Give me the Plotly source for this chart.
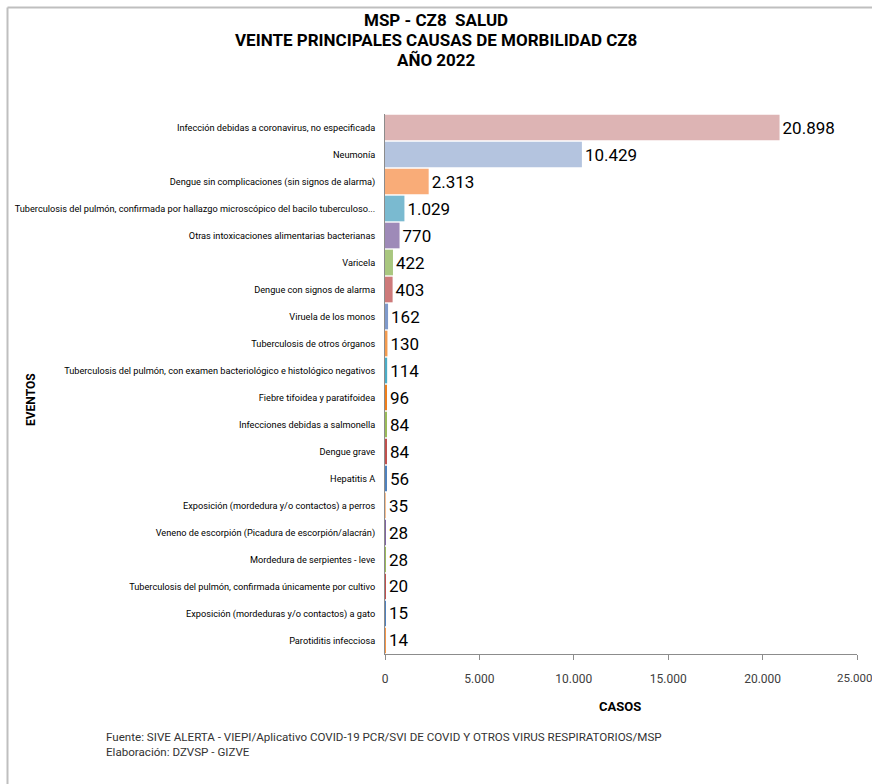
import plotly.graph_objects as go

# datos
eventos = [
    "Infección debidas a coronavirus, no especificada",
    "Neumonía",
    "Dengue sin complicaciones (sin signos de alarma)",
    "Tuberculosis del pulmón, confirmada por hallazgo microscópico del bacilo tuberculoso...",
    "Otras intoxicaciones alimentarias bacterianas",
    "Varicela",
    "Dengue con signos de alarma",
    "Viruela de los monos",
    "Tuberculosis de otros órganos",
    "Tuberculosis del pulmón, con examen bacteriológico e histológico negativos",
    "Fiebre tifoidea y paratifoidea",
    "Infecciones debidas a salmonella",
    "Dengue grave",
    "Hepatitis A",
    "Exposición (mordedura y/o contactos) a perros",
    "Veneno de escorpión (Picadura de escorpión/alacrán)",
    "Mordedura de serpientes - leve",
    "Tuberculosis del pulmón, confirmada únicamente por cultivo",
    "Exposición (mordeduras y/o contactos) a gato",
    "Parotiditis infecciosa",
]
casos = [20898, 10429, 2313, 1029, 770, 422, 403, 162, 130, 114,
         96, 84, 84, 56, 35, 28, 28, 20, 15, 14]
colores = ["#DDB4B4", "#B4C4DF", "#F9AC78", "#7ABAD0", "#9E8AB8",
           "#A9C77F", "#CD7A7A", "#7F9ACB", "#F39A4E", "#4BACC6",
           "#F07F1B", "#9BBB59", "#C0504D", "#4F81BD", "#FAC090",
           "#8064A2", "#9BBB59", "#C0504D", "#4F81BD", "#F79646"]
ticks_x = [0, 5000, 10000, 15000, 20000, 25000]

W, H = 872, 784
L, R, T, B = 385, 15, 114, 130
pw, ph = W - L - R, H - T - B

def px_x(x):
    return (x - L) / pw

def px_y(y):
    return (H - B - y) / ph

fuente = "Roboto, Arial, sans-serif"

fig = go.Figure(go.Bar(
    x=casos, y=eventos, orientation="h",
    marker=dict(color=colores, line=dict(width=0)),
    text=casos, texttemplate="%{x:,d}", textposition="outside",
    textfont=dict(family=fuente, size=17, color="#000000"),
    cliponaxis=False, hoverinfo="x+y",
))

fig.update_layout(
    width=W, height=H, autosize=False,
    margin=dict(l=L, r=R, t=T, b=B, pad=0, autoexpand=False),
    paper_bgcolor="white", plot_bgcolor="white",
    separators=",.",
    bargap=0.05,
    showlegend=False,
    font=dict(family=fuente, color="#000000"),
)
fig.update_yaxes(
    autorange="reversed", showgrid=False, ticks="", automargin=False,
    showline=True, linecolor="#8C8C8C", linewidth=1,
    tickfont=dict(family=fuente, size=9.2, color="#000000"),
    ticklabelstandoff=7,
)
fig.update_xaxes(
    range=[0, 25000], tickvals=ticks_x, tickformat=",d", automargin=False,
    showgrid=False, zeroline=False,
    showline=True, linecolor="#8C8C8C", linewidth=1,
    ticks="outside", ticklen=5, tickcolor="#8C8C8C",
    tickfont=dict(family=fuente, size=12, color="#404040"),
    ticklabelstandoff=9,
)

# la ultima etiqueta (25.000) se dibuja aparte, pegada al borde derecho
fig.add_annotation(x=ticks_x[-1], y=px_y(678), xref="x", yref="paper",
                   text="{:,}".format(ticks_x[-1]).replace(",", "."), showarrow=False,
                   xanchor="center", yanchor="middle", xshift=-3,
                   font=dict(family=fuente, size=11.5, color="#404040"))

titulo = ["MSP - CZ8  SALUD", "VEINTE PRINCIPALES CAUSAS DE MORBILIDAD CZ8", "AÑO 2022"]
for i, t in enumerate(titulo):
    fig.add_annotation(x=px_x(436), y=px_y(20 + 20 * i), xref="paper", yref="paper",
                       text="<b>%s</b>" % t, showarrow=False, xanchor="center", yanchor="middle",
                       font=dict(family=fuente, size=17, color="#000000"))

fig.add_annotation(x=px_x(31), y=px_y(400), xref="paper", yref="paper",
                   text="<b>EVENTOS</b>", textangle=-90, showarrow=False,
                   xanchor="center", yanchor="middle",
                   font=dict(family=fuente, size=12, color="#000000"))
fig.add_annotation(x=px_x(620), y=px_y(706), xref="paper", yref="paper",
                   text="<b>CASOS</b>", showarrow=False, xanchor="center", yanchor="middle",
                   font=dict(family=fuente, size=13, color="#000000"))

fig.add_annotation(x=px_x(104), y=px_y(737), xref="paper", yref="paper",
                   xanchor="left", yanchor="middle",
                   text="Fuente: SIVE ALERTA - VIEPI/Aplicativo COVID-19 PCR/SVI DE COVID Y OTROS VIRUS RESPIRATORIOS/MSP",
                   showarrow=False, font=dict(family=fuente, size=11.6, color="#333333"))
fig.add_annotation(x=px_x(104), y=px_y(752), xref="paper", yref="paper",
                   xanchor="left", yanchor="middle",
                   text="Elaboración: DZVSP - GIZVE",
                   showarrow=False, font=dict(family=fuente, size=11.6, color="#333333"))

# marco gris
borde = dict(color="#BFBFBF", width=2)
fig.add_shape(type="line", xref="paper", yref="paper",
              x0=px_x(7.5), x1=px_x(W), y0=px_y(7.5), y1=px_y(7.5), line=borde)
fig.add_shape(type="line", xref="paper", yref="paper",
              x0=px_x(7.5), x1=px_x(7.5), y0=px_y(7.5), y1=px_y(H), line=borde)

fig.write_html("out.html", config={"displayModeBar": False},
               post_script="document.body.style.margin='0';")
